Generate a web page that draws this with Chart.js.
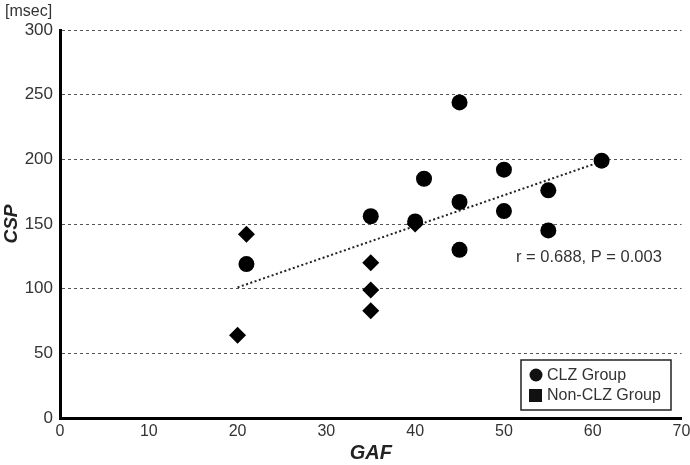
<!DOCTYPE html>
<html>
<head>
<meta charset="utf-8">
<script src="https://cdn.jsdelivr.net/npm/chart.js@4.4.0/dist/chart.umd.min.js"></script>
<style>
  html, body { margin: 0; padding: 0; background: #fff; }
  #wrap { width: 690px; height: 465px; position: relative; }
</style>
</head>
<body>
<div id="wrap"><canvas id="c"></canvas></div>
<script>
// Data
const clzGAF = [21, 35, 40, 41, 45, 45, 45, 50, 50, 55, 55, 61];
const clzCSP = [119, 156, 152, 185, 244, 167, 130, 192, 160, 176, 145, 199];
const nonClzGAF = [21, 20, 35, 35, 35, 40];
const nonClzCSP = [142, 64, 120, 99, 83, 150];
const trendGAF = [20, 60];
const trendCSP = [101, 196];
const seriesLabels = ["CLZ Group", "Non-CLZ Group"];
const annotationText = "r = 0.688, P = 0.003";
const yUnit = "[msec]";
const xTitle = "GAF";
const yTitle = "CSP";

const toXY = (xs, ys) => xs.map((x, i) => ({ x: x, y: ys[i] }));

const FONT = "'Liberation Sans', Arial, Helvetica, sans-serif";

const extras = {
  id: 'extras',
  afterDraw(chart) {
    const ctx = chart.ctx;
    const xs = chart.scales.x, ys = chart.scales.y;
    ctx.save();
    // unit label
    ctx.fillStyle = '#333';
    ctx.font = '16px ' + FONT;
    ctx.textAlign = 'left';
    ctx.textBaseline = 'middle';
    ctx.fillText(yUnit, 5, 12);
    // annotation
    ctx.fillStyle = '#333';
    ctx.font = '16.5px ' + FONT;
    ctx.textAlign = 'left';
    ctx.fillText(annotationText, 516, ys.getPixelForValue(124));
    // legend box
    const bx = 521, by = 360, bw = 150, bh = 50;
    ctx.fillStyle = '#fff';
    ctx.fillRect(bx, by, bw, bh);
    ctx.strokeStyle = '#222';
    ctx.lineWidth = 1.5;
    ctx.strokeRect(bx, by, bw, bh);
    ctx.fillStyle = '#111';
    ctx.beginPath();
    ctx.arc(bx + 15, by + 15, 6.5, 0, Math.PI * 2);
    ctx.fill();
    ctx.fillRect(bx + 8, by + 29, 13, 13);
    ctx.fillStyle = '#333';
    ctx.font = '16px ' + FONT;
    ctx.textAlign = 'left';
    ctx.fillText(seriesLabels[0], bx + 26, by + 16);
    ctx.fillText(seriesLabels[1], bx + 26, by + 36);
    ctx.restore();
  }
};

new Chart(document.getElementById('c'), {
  data: {
    datasets: [
      {
        type: 'line',
        label: 'trend',
        data: toXY(trendGAF, trendCSP),
        borderColor: '#222',
        borderWidth: 2,
        borderDash: [2, 2.5],
        pointRadius: 0,
        fill: false,
        order: 3
      },
      {
        type: 'scatter',
        label: seriesLabels[1],
        data: toXY(nonClzGAF, nonClzCSP),
        pointStyle: 'rectRot',
        pointRadius: 8.5,
        backgroundColor: '#000',
        borderColor: '#000',
        borderWidth: 0,
        order: 2
      },
      {
        type: 'scatter',
        label: seriesLabels[0],
        data: toXY(clzGAF, clzCSP),
        pointStyle: 'circle',
        pointRadius: 8,
        backgroundColor: '#000',
        borderColor: '#000',
        borderWidth: 0,
        order: 1
      }
    ]
  },
  options: {
    responsive: true,
    maintainAspectRatio: false,
    animation: false,
    layout: { padding: { top: 30, right: 0, left: 0, bottom: 0 } },
    plugins: { legend: { display: false }, tooltip: { enabled: false } },
    scales: {
      x: {
        type: 'linear',
        min: 0, max: 70,
        ticks: { stepSize: 10, color: '#333', font: { size: 16, family: FONT }, padding: 4 },
        grid: { display: false, drawTicks: false },
        border: { display: true, color: '#000', width: 3 },
        title: { display: true, text: xTitle, color: '#222', font: { size: 20, weight: 'bold', style: 'italic', family: FONT }, padding: { top: 7, bottom: 0 } },
        afterFit(s) { s.height = 47; s.paddingRight = 8; }
      },
      y: {
        type: 'linear',
        min: 0, max: 300,
        ticks: { stepSize: 50, color: '#333', font: { size: 17, family: FONT }, padding: 7 },
        grid: { color: '#555', lineWidth: 1, drawTicks: false },
        border: { display: true, color: '#000', width: 3, dash: [3, 3] },
        title: { display: true, text: yTitle, color: '#222', font: { size: 19, weight: 'bold', style: 'italic', family: FONT }, padding: { top: 0, bottom: 0 } },
        afterFit(s) { s.width = 60; }
      }
    }
  },
  plugins: [extras]
});
</script>
</body>
</html>
